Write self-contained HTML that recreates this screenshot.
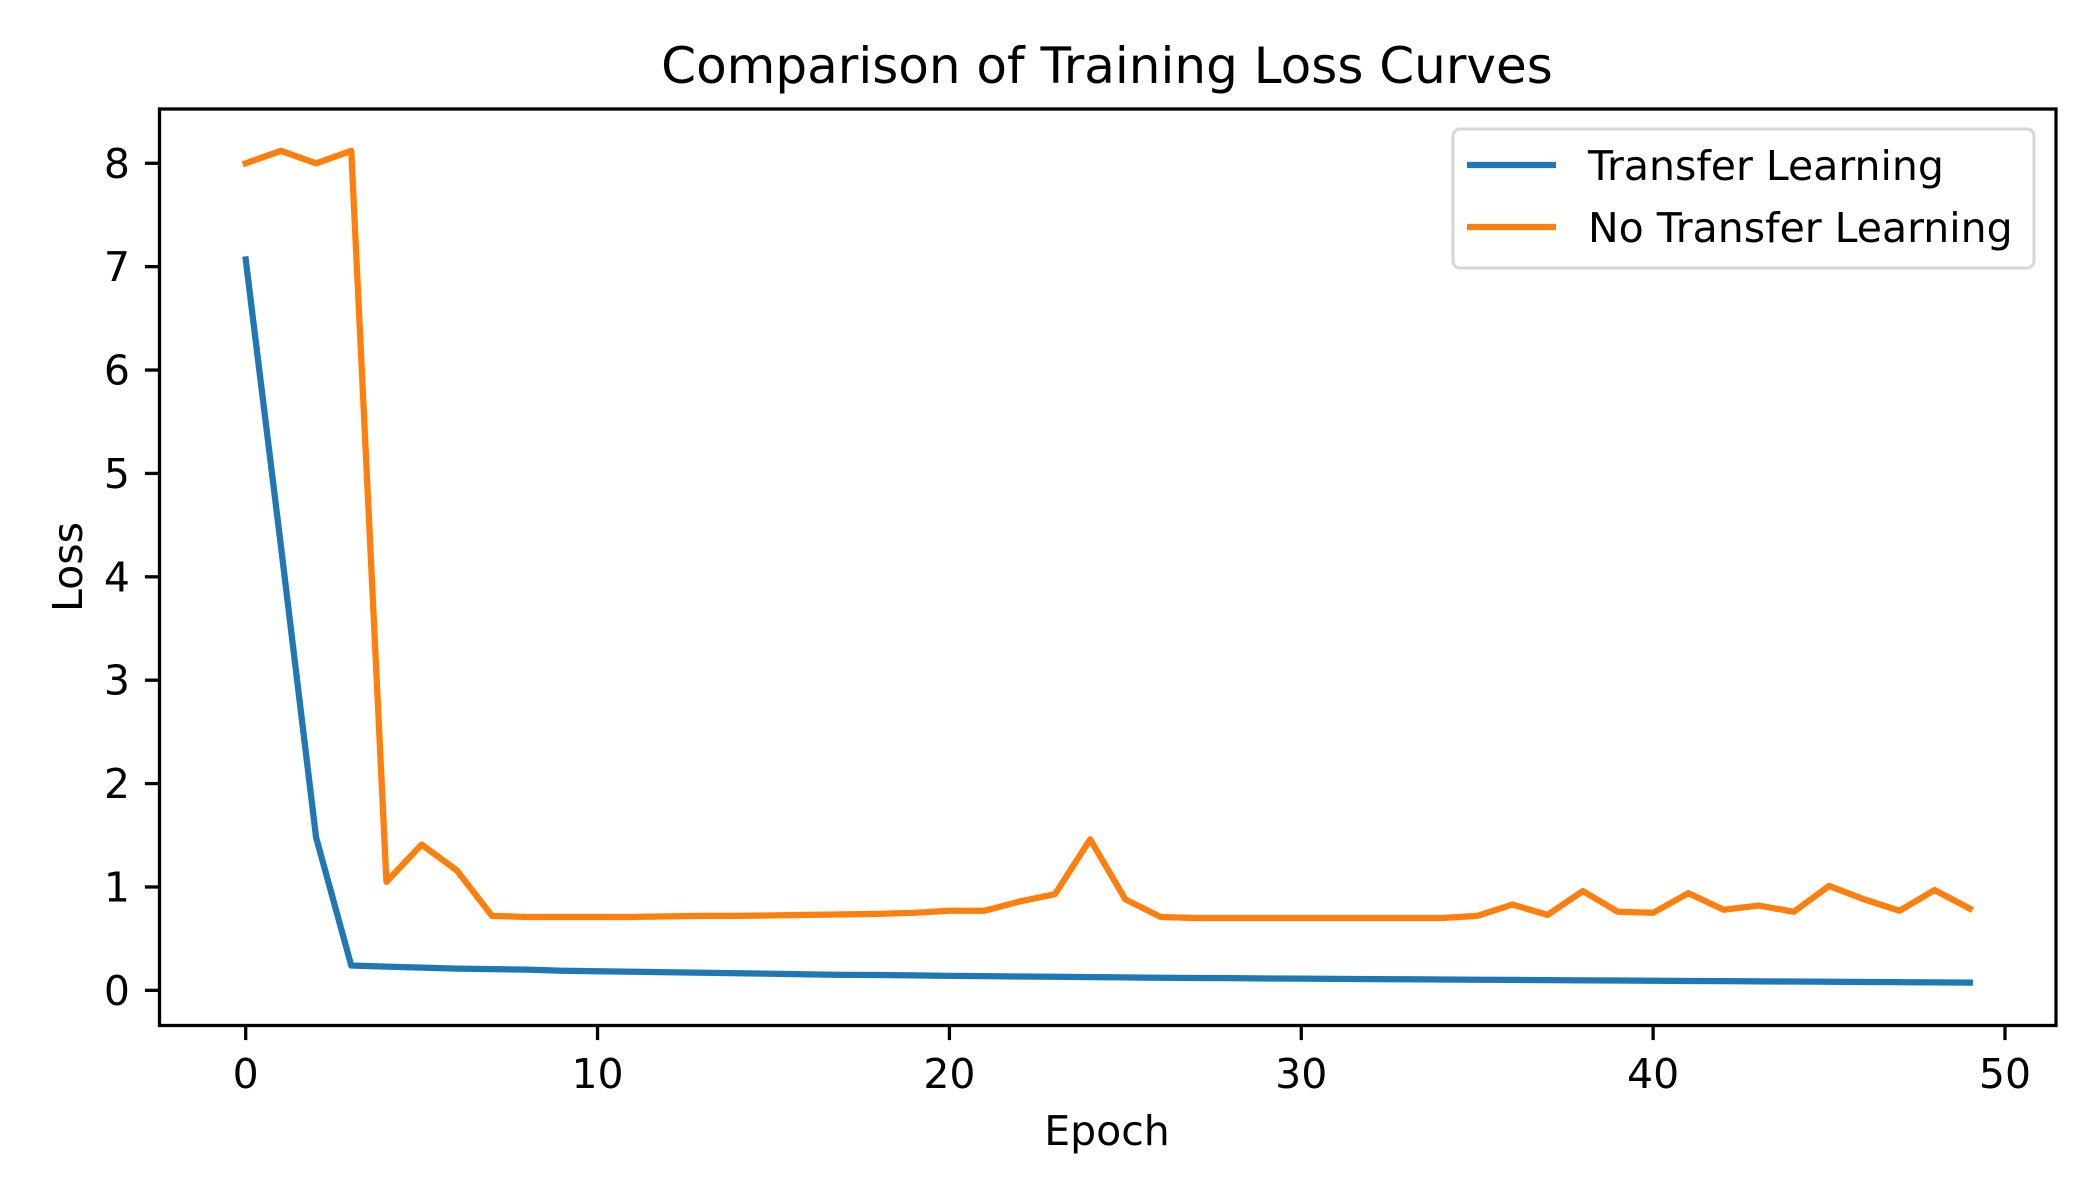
<!DOCTYPE html>
<html><head><meta charset="utf-8"><style>
html,body{margin:0;padding:0;background:#fff;}
svg{display:block;font-family:"DejaVu Sans","Liberation Sans",sans-serif;}
</style></head><body>
<svg id="chart" width="2100" height="1200" viewBox="0 0 2100 1200" xmlns="http://www.w3.org/2000/svg">
<rect width="2100" height="1200" fill="#fff"/>
<text x="1107" y="83" font-size="50" text-anchor="middle">Comparison of Training Loss Curves</text>
<g id="plot"></g>
<g id="axes"></g>
<text x="1107" y="1145" font-size="41" text-anchor="middle">Epoch</text>
<text transform="translate(82,567) rotate(-90)" font-size="41" text-anchor="middle">Loss</text>
<g>
<rect x="1453" y="129" width="581" height="139" rx="7" fill="#fff" fill-opacity="0.8" stroke="#d6d6d6" stroke-width="3"/>
<line x1="1467" y1="165" x2="1556" y2="165" stroke="#1f77b4" stroke-width="6.25"/>
<text x="1588" y="180" font-size="41">Transfer Learning</text>
<line x1="1467" y1="227" x2="1556" y2="227" stroke="#ff7f0e" stroke-width="6.25"/>
<text x="1588" y="242" font-size="41">No Transfer Learning</text>
</g>
</svg>
<script>
const epochs = Array.from({length:50},(_,i)=>i);
const transferLoss = [7.07,4.3,1.48,0.24,0.23,0.22,0.21,0.205,0.20,0.19,0.185,0.18,0.175,0.17,0.165,0.16,0.155,0.15,0.148,0.145,0.14,0.137,0.134,0.131,0.128,0.125,0.122,0.12,0.118,0.115,0.113,0.111,0.109,0.107,0.105,0.103,0.101,0.099,0.097,0.095,0.093,0.091,0.089,0.087,0.085,0.083,0.081,0.079,0.077,0.075];
const noTransferLoss = [8.0,8.12,8.0,8.12,1.05,1.41,1.16,0.72,0.71,0.71,0.71,0.71,0.715,0.72,0.72,0.725,0.73,0.735,0.74,0.75,0.77,0.77,0.86,0.93,1.46,0.88,0.71,0.70,0.70,0.70,0.70,0.70,0.70,0.70,0.70,0.72,0.83,0.73,0.96,0.76,0.75,0.94,0.78,0.82,0.76,1.01,0.88,0.77,0.97,0.79];
const xTicks = [0,10,20,30,40,50];
const yTicks = [0,1,2,3,4,5,6,7,8];

const L=159.5,R=2056,T=109,B=1025.5;
const xMin=-2.45,xMax=51.45,yMin=-0.34,yMax=8.525;
const sx=v=>L+(v-xMin)/(xMax-xMin)*(R-L);
const sy=v=>B-(v-yMin)/(yMax-yMin)*(B-T);
const NS="http://www.w3.org/2000/svg";
const plot=document.getElementById('plot'), axes=document.getElementById('axes');
function mk(tag,attrs,parent){const e=document.createElementNS(NS,tag);for(const k in attrs)e.setAttribute(k,attrs[k]);parent.appendChild(e);return e;}

function series(vals,color,name){
  const p=mk('polyline',{points:vals.map((v,i)=>sx(epochs[i])+','+sy(v)).join(' '),fill:'none',stroke:color,'stroke-width':6.25,'stroke-linejoin':'round','stroke-linecap':'square'},plot);
  
  
}
series(transferLoss,'#1f77b4','transfer-learning-line');
series(noTransferLoss,'#ff7f0e','no-transfer-learning-line');

const frame=mk('rect',{x:L,y:T,width:R-L,height:B-T,fill:'none',stroke:'#000','stroke-width':3.3},axes);



xTicks.forEach(t=>{
  const x=sx(t);
  const tk=mk('line',{x1:x,y1:B,x2:x,y2:B+14.6,stroke:'#000','stroke-width':3.3},axes);
  
  
  const lb=mk('text',{x:x,y:1088,'font-size':41,'text-anchor':'middle'},axes);
  lb.textContent=t;
  
  
});
yTicks.forEach(t=>{
  const y=sy(t);
  const tk=mk('line',{x1:L,y1:y,x2:L-14.6,y2:y,stroke:'#000','stroke-width':3.3},axes);
  
  
  const lb=mk('text',{x:130,y:y+14.5,'font-size':41,'text-anchor':'end'},axes);
  lb.textContent=t;
  
  
});
</script>
</body></html>
